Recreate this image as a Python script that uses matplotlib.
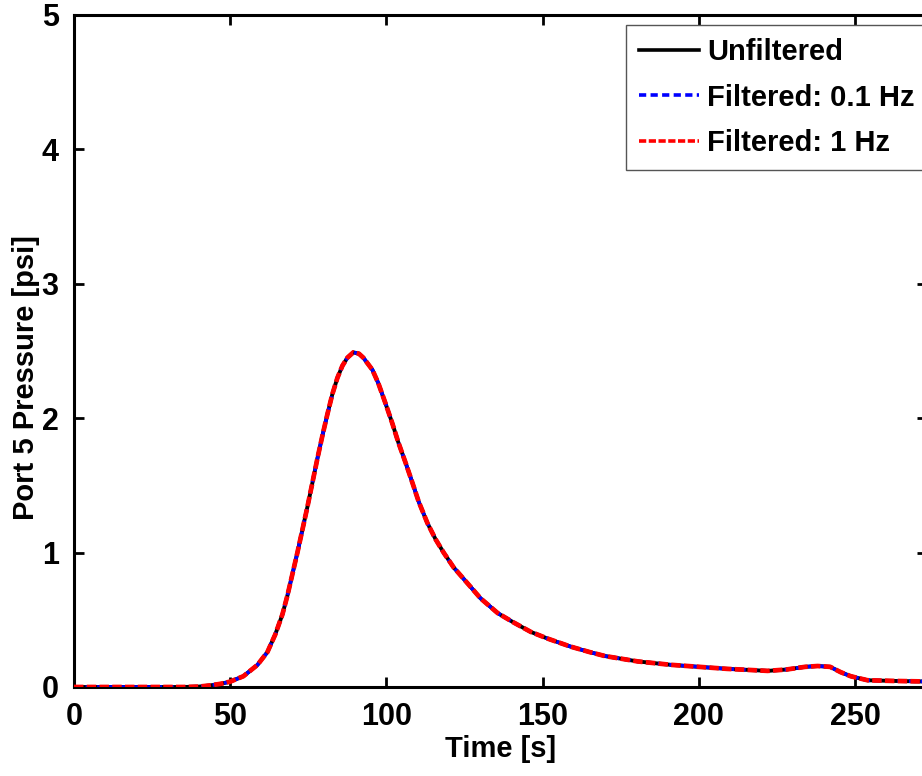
import matplotlib
matplotlib.use("Agg")
import matplotlib.pyplot as plt

plt.rcParams['font.family'] = ['Liberation Sans', 'DejaVu Sans']
plt.rcParams['font.weight'] = 'bold'

# Time [s]
time_s = [0, 20, 35, 40, 43.6, 47, 50.0, 54.2, 58.7, 61.9, 64.4, 66.7, 68.3, 69.9,
          71.5, 73.1, 74.7, 76.3, 77.9, 79.5, 81.1, 82.7, 84.3, 85.9, 87.5, 89.4,
          91.2, 92.6, 95.5, 97.4, 99.7, 101.9, 103.8, 106.1, 108.3, 110.3, 113.1,
          115.7, 118.3, 121.5, 126.0, 130.1, 135.6, 140.7, 146.2, 151.6, 159.0,
          165, 170, 180.5, 191, 200, 209, 222, 228, 234, 238, 242, 245.4, 248.6,
          254, 262.6, 275]
# Port 5 pressure [psi]
unfiltered = [0, 0, 0, 0.003, 0.012, 0.024, 0.040, 0.080, 0.164, 0.26, 0.39, 0.54,
              0.68, 0.84, 1.00, 1.17, 1.34, 1.52, 1.70, 1.87, 2.03, 2.18, 2.30,
              2.39, 2.45, 2.49, 2.48, 2.45, 2.36, 2.26, 2.11, 1.96, 1.82, 1.67,
              1.52, 1.38, 1.22, 1.10, 1.00, 0.89, 0.77, 0.66, 0.55, 0.48, 0.41,
              0.36, 0.30, 0.26, 0.23, 0.19, 0.165, 0.15, 0.135, 0.12, 0.13, 0.15,
              0.156, 0.15, 0.11, 0.08, 0.05, 0.045, 0.04]
filtered_01hz = list(unfiltered)
filtered_1hz = list(unfiltered)

series_labels = ["Unfiltered", "Filtered: 0.1 Hz", "Filtered: 1 Hz"]
x_ticks = [0, 50, 100, 150, 200, 250]
y_ticks = [0, 1, 2, 3, 4, 5]

fig = plt.figure(figsize=(9.22, 7.76), dpi=100)
ax = fig.add_axes([74/922, 89/776, 853/922, 672/776])

ax.plot(time_s, unfiltered, color='black', lw=2.8, label=series_labels[0], zorder=3)
ax.plot(time_s, filtered_01hz, color='blue', lw=2.6, linestyle=(0, (2.0, 1.2)),
        label=series_labels[1], zorder=4)
ax.plot(time_s, filtered_1hz, color='red', lw=3.4, linestyle=(0, (2.0, 0.7)),
        label=series_labels[2], zorder=5)

ax.set_xlim(0, 273)
ax.set_ylim(0, 5)
ax.set_xticks(x_ticks)
ax.set_yticks(y_ticks)
ax.tick_params(direction='in', length=7, width=2, top=True, right=True,
               labelsize=22, pad=11)
for lab in ax.get_xticklabels() + ax.get_yticklabels():
    lab.set_fontweight('bold')
for sp in ax.spines.values():
    sp.set_linewidth(2.2)

ax.set_xlabel("Time [s]", fontsize=21, fontweight='bold', labelpad=2)
ax.set_ylabel("Port 5 Pressure [psi]", fontsize=21, fontweight='bold')
ax.yaxis.set_label_coords(-0.040, 0.46)

leg = ax.legend(loc='upper left', bbox_to_anchor=(626/922, 1 - 25/776, 310/922, 0),
                bbox_transform=fig.transFigure, mode='expand', fontsize=21,
                frameon=True, fancybox=False, framealpha=1.0, handlelength=2.05,
                handletextpad=0.28, labelspacing=0.6, borderpad=0.45,
                borderaxespad=0)
leg.set_zorder(10)
leg.get_frame().set_edgecolor('#555555')
leg.get_frame().set_linewidth(1.0)
for t in leg.get_texts():
    t.set_fontweight('bold')
for h in leg.get_lines():
    h.set_linewidth(2.6)

fig.savefig("out.png", dpi=100)
